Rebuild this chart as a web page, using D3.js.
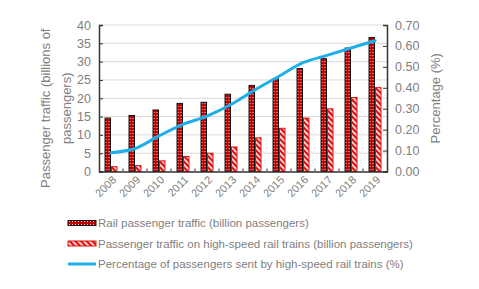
<!DOCTYPE html>
<html>
<head>
<meta charset="utf-8">
<script src="https://cdn.jsdelivr.net/npm/d3@7"></script>
<style>
  body { margin: 0; background: #fff; }
  svg { display: block; font-family: "Liberation Sans", Arial, sans-serif; }
  text { fill: #808080; }
</style>
</head>
<body>
<div id="chart"></div>
<script>
const years = ["2008", "2009", "2010", "2011", "2012", "2013", "2014", "2015", "2016", "2017", "2018", "2019"];
const railTraffic = [14.6, 15.3, 16.8, 18.6, 18.9, 21.1, 23.5, 25.3, 28.1, 30.8, 33.7, 36.6];
const hsrTraffic = [1.3, 1.6, 2.9, 4.1, 5.0, 6.7, 9.2, 11.8, 14.6, 17.1, 20.2, 22.9];
const hsrShare = [0.09, 0.11, 0.17, 0.225, 0.265, 0.32, 0.39, 0.455, 0.52, 0.555, 0.59, 0.625];
const leftTicks = [0, 5, 10, 15, 20, 25, 30, 35, 40];
const rightTicks = [0, 0.1, 0.2, 0.3, 0.4, 0.5, 0.6, 0.7];
const legendLabels = [
  "Rail passenger traffic (billion passengers)",
  "Passenger traffic on high-speed rail trains (billion passengers)",
  "Percentage of passengers sent by high-speed rail trains (%)",
];

const width = 479;
const height = 289;
const marginLeft = 99;
const marginRight = 92;
const marginTop = 25;
const plotBottom = 171.5;

const red = "#c00000";
const hatchRed = "#e01010";
const blue = "#1eaee8";

const svg = d3.select("#chart").append("svg")
  .attr("width", width)
  .attr("height", height)
  .attr("viewBox", [0, 0, width, height]);

const defs = svg.append("defs");

// dotted dark red fill
const dots = defs.append("pattern")
  .attr("id", "dots")
  .attr("patternUnits", "userSpaceOnUse")
  .attr("width", 3)
  .attr("height", 3);
dots.append("rect").attr("width", 3).attr("height", 3).attr("fill", red);
dots.append("rect").attr("x", 1).attr("y", 1).attr("width", 1).attr("height", 1).attr("fill", "#fff").attr("opacity", 0.85);

// diagonal hatch
const hatch = defs.append("pattern")
  .attr("id", "hatch")
  .attr("patternUnits", "userSpaceOnUse")
  .attr("width", 4)
  .attr("height", 4)
  .attr("patternTransform", "rotate(-45)");
hatch.append("rect").attr("width", 4).attr("height", 4).attr("fill", hatchRed);
hatch.append("rect").attr("width", 1.6).attr("height", 4).attr("fill", "#fff");

const x = d3.scaleBand()
  .domain(years)
  .range([marginLeft, width - marginRight])
  .paddingInner(0.46)
  .paddingOuter(0.23);

const x1 = d3.scaleBand()
  .domain(["rail", "hsr"])
  .range([0, x.bandwidth()]);

const y = d3.scaleLinear().domain([0, 40]).range([plotBottom, marginTop]);
const y2 = d3.scaleLinear().domain([0, 0.7]).range([plotBottom, marginTop]);

// gridlines
svg.append("g")
  .selectAll("line")
  .data(leftTicks.slice(1))
  .join("line")
  .attr("x1", marginLeft)
  .attr("x2", width - marginRight)
  .attr("y1", (d) => y(d))
  .attr("y2", (d) => y(d))
  .attr("stroke", "#d9d9d9")
  .attr("stroke-width", 1);

// bars
const groups = svg.append("g")
  .selectAll("g")
  .data(years)
  .join("g")
  .attr("transform", (d) => `translate(${x(d)},0)`);

groups.append("rect")
  .attr("x", x1("rail") + 0.5)
  .attr("width", x1.bandwidth() - 1)
  .attr("y", (d, i) => y(railTraffic[i]))
  .attr("height", (d, i) => y(0) - y(railTraffic[i]))
  .attr("fill", "url(#dots)")
  .attr("stroke", "#111")
  .attr("stroke-width", 1);

groups.append("rect")
  .attr("x", x1("hsr") + 0.5)
  .attr("width", x1.bandwidth() - 1)
  .attr("y", (d, i) => y(hsrTraffic[i]))
  .attr("height", (d, i) => y(0) - y(hsrTraffic[i]))
  .attr("fill", "url(#hatch)")
  .attr("stroke", hatchRed)
  .attr("stroke-width", 1);

// percentage line
const line = d3.line()
  .x((d, i) => x(years[i]) + x.bandwidth() / 2)
  .y((d) => y2(d))
  .curve(d3.curveCatmullRom.alpha(0.5));

svg.append("path")
  .datum(hsrShare)
  .attr("fill", "none")
  .attr("stroke", blue)
  .attr("stroke-width", 3)
  .attr("stroke-linecap", "round")
  .attr("d", line);

// axes
const leftAxis = svg.append("g")
  .attr("transform", `translate(${marginLeft},0)`)
  .call(d3.axisLeft(y).tickValues(leftTicks).tickSize(-4).tickPadding(8));

const rightAxis = svg.append("g")
  .attr("transform", `translate(${width - marginRight},0)`)
  .call(d3.axisRight(y2).tickValues(rightTicks).tickSize(-4).tickPadding(8).tickFormat(d3.format(".2f")));

const bottomAxis = svg.append("g")
  .attr("transform", `translate(0,${plotBottom})`)
  .call(d3.axisBottom(x).tickSize(0).tickPadding(0));

for (const g of [leftAxis, rightAxis, bottomAxis]) {
  g.select(".domain").attr("stroke", "#333").attr("stroke-width", 1.5);
  g.selectAll(".tick line").attr("stroke", "#333");
  g.selectAll("text").attr("fill", "#808080");
}
leftAxis.selectAll("text").attr("font-size", 12.5);
rightAxis.selectAll("text").attr("font-size", 12.5);

bottomAxis.selectAll(".tick text")
  .attr("font-size", 11)
  .attr("text-anchor", "end")
  .attr("dy", 0)
  .attr("transform", "translate(6,9) rotate(-45)");

// category separator ticks along the bottom
svg.append("g")
  .selectAll("line")
  .data(years.slice(1))
  .join("line")
  .attr("x1", (d) => x(d) - x.step() * x.paddingInner() / 2)
  .attr("x2", (d) => x(d) - x.step() * x.paddingInner() / 2)
  .attr("y1", plotBottom)
  .attr("y2", plotBottom - 3)
  .attr("stroke", "#333");

// axis titles
const leftTitle = svg.append("text")
  .attr("transform", `translate(50,${(marginTop + plotBottom) / 2 + 10}) rotate(-90)`)
  .attr("text-anchor", "middle")
  .attr("font-size", 13);
leftTitle.append("tspan").attr("x", 0).attr("y", 0).text("Passenger traffic (billions of");
leftTitle.append("tspan").attr("x", 0).attr("y", 21).text("passengers)");

svg.append("text")
  .attr("transform", `translate(440,${(marginTop + plotBottom) / 2}) rotate(-90)`)
  .attr("text-anchor", "middle")
  .attr("font-size", 13)
  .text("Percentage (%)");

// legend
const legend = svg.append("g")
  .selectAll("g")
  .data(legendLabels)
  .join("g")
  .attr("transform", (d, i) => `translate(68,${223 + i * 20.5})`);

legend.filter((d, i) => i === 0).append("rect")
  .attr("y", -2.5).attr("width", 28).attr("height", 5)
  .attr("fill", "url(#dots)").attr("stroke", "#111");
legend.filter((d, i) => i === 1).append("rect")
  .attr("y", -2.5).attr("width", 28).attr("height", 5)
  .attr("fill", "url(#hatch)").attr("stroke", hatchRed);
legend.filter((d, i) => i === 2).append("line")
  .attr("x2", 28).attr("stroke", blue).attr("stroke-width", 3);

legend.append("text")
  .attr("x", 30)
  .attr("dy", "0.35em")
  .attr("font-size", 11.5)
  .text((d) => d);
</script>
</body>
</html>
